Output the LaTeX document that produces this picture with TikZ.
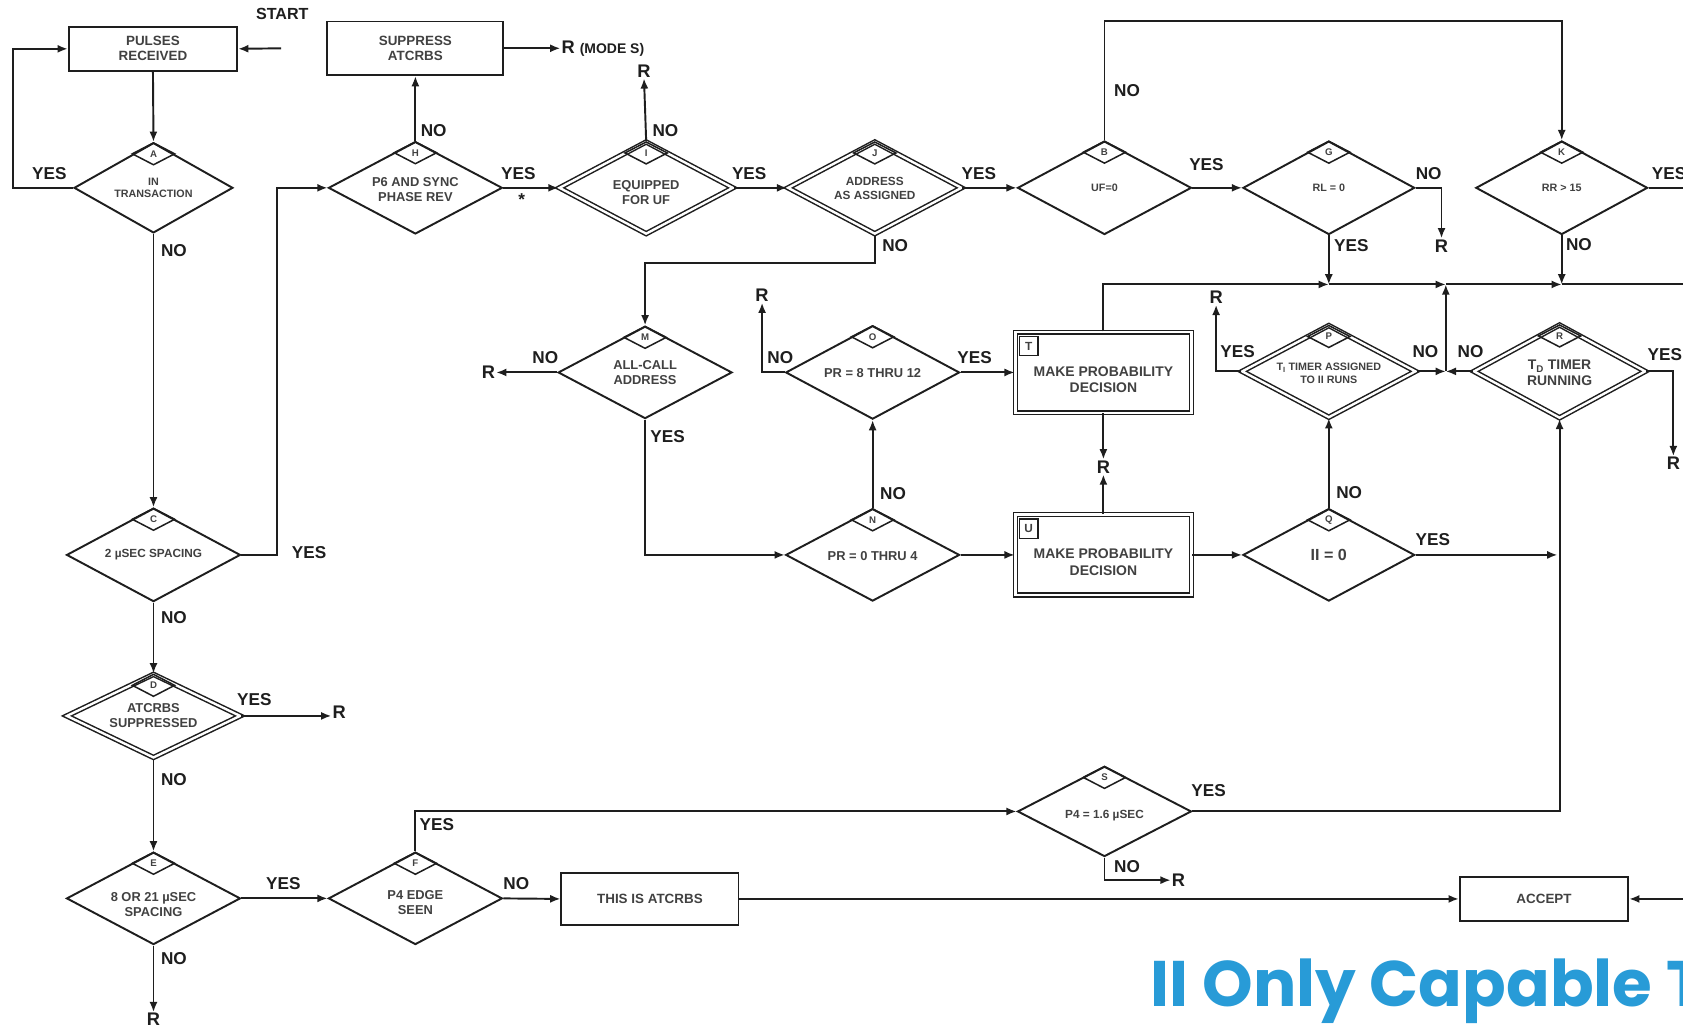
\documentclass[tikz,border=0pt]{standalone}
\usepackage{fontspec}
\setmainfont{Liberation Sans}
\newfontfamily\titlefont{Poppins}
\usetikzlibrary{shapes.geometric,arrows.meta,calc}
\definecolor{titleblue}{RGB}{40,155,215}
\definecolor{ink}{RGB}{30,30,30}
\definecolor{txt}{RGB}{65,65,65}
\newcommand{\lowr}[2]{\raisebox{-#1}[\height][\depth]{\begin{tabular}{@{}c@{}}#2\end{tabular}}}
\tikzset{
  ln/.style={line width=1.8pt, draw=ink},
  arr/.style={ln, -{Latex[length=9.5pt,width=7.5pt]}},
  dia/.style={shape=diamond, shape aspect=1.9, draw=ink, line width=1.8pt, inner sep=0pt,
    minimum width=162pt, minimum height=86pt, align=center, text=txt,
    font=\bfseries\fontsize{12}{14}\selectfont},
  ddia/.style={dia, double=white, double distance=2.2pt, line width=1.4pt},
  tagd/.style={shape=diamond, draw=ink, line width=1.4pt, inner sep=0pt,
    minimum width=40pt, minimum height=21pt, anchor=north, text=txt,
    font=\bfseries\fontsize{9}{9}\selectfont},
  tagsq/.style={draw=ink, line width=1.3pt, inner sep=0pt, minimum width=17pt,
    minimum height=18pt, anchor=north west, text=txt, font=\bfseries\fontsize{11}{11}\selectfont},
  box/.style={draw=ink, line width=1.8pt, align=center, inner sep=0pt, text=txt,
    font=\bfseries\fontsize{12.5}{14}\selectfont},
  dbox/.style={box, double=white, double distance=2.2pt, line width=1.4pt,
    minimum width=164pt, minimum height=75pt, font=\bfseries\fontsize{13}{15.5}\selectfont},
  lbl/.style={inner sep=0pt, text=ink, font=\bfseries\fontsize{16}{16}\selectfont},
  term/.style={inner sep=1pt, text=ink, font=\bfseries\fontsize{17}{17}\selectfont},
}
\begin{document}
\begin{tikzpicture}[x=1pt,y=-1pt]
\useasboundingbox (0,0) rectangle (1568,958);
\fill[white] (0,0) rectangle (1568,958);

% ---------- boxes ----------
\node[box, minimum width=157pt, minimum height=41pt] (pulses) at (142.5,45.5) {PULSES\\RECEIVED};
\node[box, minimum width=164pt, minimum height=50pt] (suppress) at (387,45) {SUPPRESS\\ATCRBS};
\node[box, minimum width=165pt, minimum height=49pt] (atcrbs) at (605.5,837.5) {THIS IS ATCRBS};
\node[box, minimum width=157pt, minimum height=41pt] (accept) at (1438.5,837.5) {ACCEPT};
\node[dbox] (T) at (1028,347) {\lowr{8pt}{MAKE PROBABILITY\\DECISION}};
\node[dbox] (U) at (1028,517) {\lowr{8pt}{MAKE PROBABILITY\\DECISION}};
\node[tagsq] (Ttag) at ($(T.north west)+(4,4)$) {T};
\node[tagsq] (Utag) at ($(U.north west)+(4,4)$) {U};

% ---------- diamonds ----------
\node[dia, minimum width=148pt, minimum height=84pt, font=\bfseries\fontsize{10}{12}\selectfont] (A) at (143,175) {\lowr{1pt}{IN\\TRANSACTION}};
\node[dia] (H) at (387,175) {\lowr{3pt}{P6 AND SYNC\\PHASE REV}};
\node[ddia] (I) at (602,175) {\lowr{6pt}{EQUIPPED\\FOR UF}};
\node[ddia, font=\bfseries\fontsize{11}{13}\selectfont] (J) at (815,175) {\lowr{2pt}{ADDRESS\\AS ASSIGNED}};
\node[dia, minimum height=87pt, font=\bfseries\fontsize{10}{12}\selectfont] (B) at (1029,175) {\lowr{1pt}{UF=0}};
\node[dia, minimum width=160pt, minimum height=87pt, font=\bfseries\fontsize{10}{12}\selectfont] (G) at (1238,175) {\lowr{1pt}{RL = 0}};
\node[dia, minimum width=160pt, minimum height=87pt, font=\bfseries\fontsize{10}{12}\selectfont] (K) at (1455,175) {\lowr{1pt}{RR > 15}};
\node[dia] (M) at (601,347) {ALL-CALL\\ADDRESS};
\node[dia, minimum height=87pt] (O) at (813,347) {\lowr{2pt}{PR = 8 THRU 12}};
\node[dia] (N) at (813,517) {\lowr{2pt}{PR = 0 THRU 4}};
\node[ddia, font=\bfseries\fontsize{10}{12}\selectfont] (P) at (1238,346) {\lowr{3pt}{T\textsubscript{I} TIMER ASSIGNED\\TO II RUNS}};
\node[ddia, minimum width=160pt, minimum height=87pt, font=\bfseries\fontsize{13}{15}\selectfont] (R) at (1453,346) {\lowr{3pt}{T\textsubscript{D} TIMER\\RUNNING}};
\node[dia, minimum width=160pt, font=\bfseries\fontsize{15}{17}\selectfont] (Q) at (1238,517) {\lowr{2pt}{II = 0}};
\node[dia, minimum height=87pt, font=\bfseries\fontsize{11}{13}\selectfont] (C) at (143,517) {2 µSEC SPACING};
\node[ddia, minimum height=78pt] (D) at (143,667) {ATCRBS\\SUPPRESSED};
\node[dia] (E) at (143,837) {\lowr{7pt}{8 OR 21 µSEC\\SPACING}};
\node[dia] (F) at (387,837) {\lowr{5pt}{P4 EDGE\\SEEN}};
\node[dia, minimum height=84pt, font=\bfseries\fontsize{11}{13}\selectfont] (S) at (1029,756) {\lowr{4pt}{P4 = 1.6 µSEC}};

\foreach \n in {A,H,I,J,B,G,K,M,O,N,P,R,Q,C,D,E,F,S}{
  \node[tagd] (\n tag) at (\n.north) {\n};
}

% ---------- terminals ----------
\node[lbl, font=\bfseries\fontsize{15}{15}\selectfont] (start) at (263,13) {START};
\node[term, anchor=west] (rmodes) at (522,45) {R {\fontsize{13}{13}\selectfont (MODE S)}};
\node[term] (rI) at (600,66) {R};
\node[term] (rD) at (316,664) {R};
\node[term] (rE) at (143,950) {R};
\node[term] (rS) at (1098,820) {R};
\node[term] (rG) at (1343,229) {R};
\node[term] (rM) at (455,347) {R};
\node[term] (rO) at (710,275) {R};
\node[term] (rT) at (1028,435) {R};
\node[term] (rP) at (1133,277) {R};
\node[term] (rR) at (1559,432) {R};

\coordinate (startin) at (262,45);
\coordinate (jG) at (1238,265);
\coordinate (jP) at (1347,265);
\coordinate (jK) at (1455,265);
\coordinate (hend) at (1570,265);
\coordinate (jPR) at (1347,346);
\coordinate (kout) at (1570,175);
\coordinate (qend) at (1451,517);
\coordinate (accin) at (1570,837.5);

% ---------- connectors ----------
\draw[arr] (startin) -- (pulses.east);
\draw[arr] (pulses.south) -- (A.north);
\draw[arr] (A.west) -- ++(-56,0) |- (pulses.west);
\draw[arr] (A.south) -- (C.north);
\draw[arr] (C.east) -- ++(33,0) |- (H.west);
\draw[arr] (C.south) -- (D.north);
\draw[arr] (D.east) -- (D.east -| rD.west);
\draw[arr] (D.south) -- (E.north);
\draw[arr] (E.east) -- (F.west);
\draw[arr] (E.south) -- (rE.north);
\draw[arr] (F.north) |- (S.west);
\draw[arr] (F.east) -- (atcrbs.west);
\draw[arr] (atcrbs.east) -- (accept.west);
\draw[arr] (accin) -- (accept.east);
\draw[arr] (S.east) -| (R.south);
\draw[arr] (S.south) |- (rS.west);
\draw[arr] (H.north) -- (suppress.south);
\draw[arr] (suppress.east) -- (rmodes.west);
\draw[arr] (H.east) -- (I.west);
\draw[arr] (I.north) -- (rI.south);
\draw[arr] (I.east) -- (J.west);
\draw[arr] (J.east) -- (B.west);
\draw[arr] (J.south) -- ++(0,26) -| (M.north);
\draw[arr] (B.east) -- (G.west);
\draw[arr] (B.north) -- ++(0,-111) -| (K.north);
\draw[arr] (G.east) -| (rG.north);
\draw[arr] (G.south) -- (jG);
\draw[ln] (K.east) -- (kout);
\draw[arr] (K.south) -- (jK);
\draw[arr] (T.north) |- (jG);
\draw[arr] (jG) -- (jP);
\draw[arr] (jP) -- (jK);
\draw[ln] (jK) -- (hend);
\draw[arr] (P.east) -- (jPR);
\draw[arr] (R.west) -- (jPR);
\draw[arr] (jPR) -- (jP);
\draw[arr] (P.west) -| (rP.south);
\draw[arr] (R.east) -| (rR.north);
\draw[arr] (T.south) -- (rT.north);
\draw[arr] (U.north) -- (rT.south);
\draw[arr] (M.west) -- (rM.east);
\draw[arr] (M.south) |- (N.west);
\draw[arr] (N.north) -- (O.south);
\draw[arr] (N.east) -- (U.west);
\draw[arr] (O.west) -| (rO.south);
\draw[arr] (O.east) -- (T.west);
\draw[arr] (U.east) -- (Q.west);
\draw[arr] (Q.north) -- (P.south);
\draw[arr] (Q.east) -- (qend);

% ---------- YES / NO labels ----------
\node[lbl] (lAy) at (46,162) {YES};
\node[lbl] (lAn) at (162,233) {NO};
\node[lbl] (lCy) at (288,515) {YES};
\node[lbl] (lCn) at (162,575) {NO};
\node[lbl] (lDy) at (237,652) {YES};
\node[lbl] (lDn) at (162,726) {NO};
\node[lbl] (lEy) at (264,823) {YES};
\node[lbl] (lEn) at (162,893) {NO};
\node[lbl] (lFy) at (407,768) {YES};
\node[lbl] (lFn) at (481,823) {NO};
\node[lbl] (lSy) at (1126,737) {YES};
\node[lbl] (lSn) at (1050,807) {NO};
\node[lbl] (lHn) at (404,122) {NO};
\node[lbl] (lHy) at (483,162) {YES};
\node[lbl] (star) at (486,186) {*};
\node[lbl] (lIn) at (620,122) {NO};
\node[lbl] (lIy) at (698,162) {YES};
\node[lbl] (lJy) at (912,162) {YES};
\node[lbl] (lJn) at (834,229) {NO};
\node[lbl] (lBn) at (1050,84) {NO};
\node[lbl] (lBy) at (1124,153) {YES};
\node[lbl] (lGn) at (1331,162) {NO};
\node[lbl] (lGy) at (1259,229) {YES};
\node[lbl] (lKy) at (1555,162) {YES};
\node[lbl] (lKn) at (1471,228) {NO};
\node[lbl] (lMn) at (508,333) {NO};
\node[lbl] (lMy) at (622,407) {YES};
\node[lbl] (lOn) at (727,333) {NO};
\node[lbl] (lOy) at (908,333) {YES};
\node[lbl] (lNn) at (832,460) {NO};
\node[lbl] (lPy) at (1153,328) {YES};
\node[lbl] (lPn) at (1328,328) {NO};
\node[lbl] (lRn) at (1370,328) {NO};
\node[lbl] (lRy) at (1551,330) {YES};
\node[lbl] (lQn) at (1257,459) {NO};
\node[lbl] (lQy) at (1335,503) {YES};

% ---------- title ----------
\node[anchor=base west, inner sep=0pt, text=titleblue,
  font=\titlefont\bfseries\fontsize{60}{60}\selectfont] (title) at (1072,938) {II Only Capable T};
\end{tikzpicture}
\end{document}
